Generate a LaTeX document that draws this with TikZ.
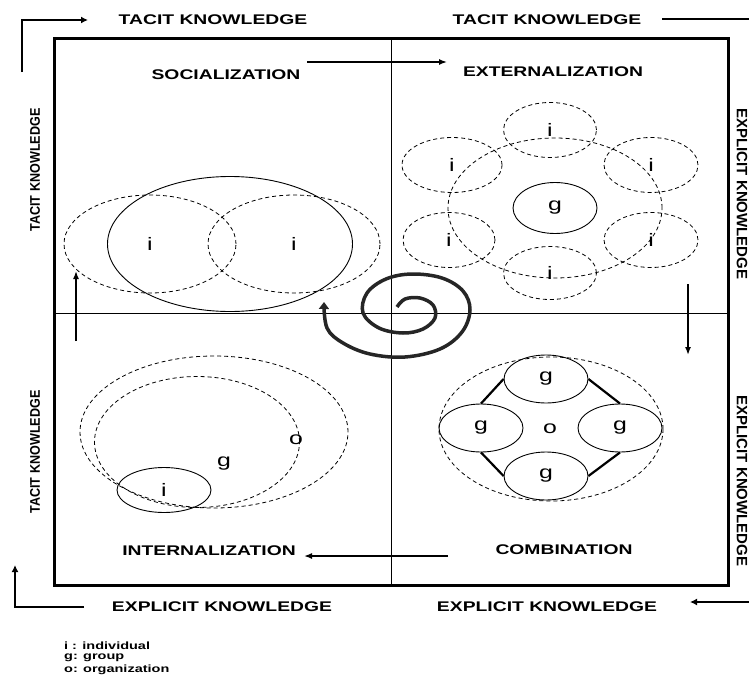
\documentclass[tikz,border=0pt]{standalone}
\usepackage{fontspec}
\setmainfont{Liberation Sans}
\newfontfamily\widefont[FakeStretch=1.38]{Liberation Sans}
\newfontfamily\narrowfont[FakeStretch=0.9]{Liberation Sans}
\usetikzlibrary{shapes.geometric,arrows.meta}

\begin{document}
\begin{tikzpicture}
 [x=1pt,y=-1pt,
  every node/.style={inner sep=0pt,font=\widefont\fontsize{18}{20}\selectfont},
  modelbl/.style={font=\widefont\bfseries\fontsize{14}{16}\selectfont},
  sidelbl/.style={font=\narrowfont\bfseries\fontsize{14}{16}\selectfont},
  edgelbl/.style={font=\bfseries\fontsize{15}{17}\selectfont},
  keylbl/.style={anchor=west,font=\widefont\bfseries\fontsize{10.5}{12}\selectfont},
  member/.style={ellipse,draw,line width=0.9pt},
  dashring/.style={ellipse,draw,line width=0.8pt,dash pattern=on 4pt off 3pt},
  flow/.style={line width=1.5pt,-{Latex[length=8pt,width=6pt]}},
  turnarrow/.style={line width=2.8pt,-{Latex[length=7pt,width=7pt]}},
  linkline/.style={line width=2.2pt}]
  \useasboundingbox (0,0) rectangle (749,677);

  % frame and quadrants
  \draw[line width=3pt] (54,39) rectangle (728,585);
  \draw[line width=0.8pt] (391,39) -- (391,585);
  \draw[line width=0.8pt] (54,313) -- (728,313);

  % outer labels
  \node[modelbl] (tk1) at (213,20) {TACIT KNOWLEDGE};
  \node[modelbl] (tk2) at (547,20) {TACIT KNOWLEDGE};
  \node[modelbl] (ek1) at (222,607) {EXPLICIT KNOWLEDGE};
  \node[modelbl] (ek2) at (547,607) {EXPLICIT KNOWLEDGE};
  \node[sidelbl,rotate=90] (tk3) at (35,170) {TACIT KNOWLEDGE};
  \node[sidelbl,rotate=90] (tk4) at (35,452) {TACIT KNOWLEDGE};
  \node[edgelbl,rotate=-90] (ek3) at (742,194) {EXPLICIT KNOWLEDGE};
  \node[edgelbl,rotate=-90] (ek4) at (742,481) {EXPLICIT KNOWLEDGE};

  % outer turning arrows
  \coordinate (l1) at (22,72);  \coordinate (l2) at (22,20);  \coordinate (l3) at (88,20);
  \coordinate (r1) at (662,19); \coordinate (r2) at (756,19); \coordinate (r3) at (756,64);
  \coordinate (q1) at (756,560); \coordinate (q2) at (756,602); \coordinate (q3) at (690,602);
  \coordinate (p1) at (84,607); \coordinate (p2) at (15,607); \coordinate (p3) at (15,565);
  \foreach \a/\b/\c in {l1/l2/l3,r1/r2/r3,q1/q2/q3,p1/p2/p3}
    \draw[turnarrow] (\a) -- (\b) -- (\c);

  % modes
  \node[modelbl] (soc) at (226,75) {SOCIALIZATION};
  \node[modelbl] (ext) at (553,72) {EXTERNALIZATION};
  \node[modelbl] (int) at (209,551) {INTERNALIZATION};
  \node[modelbl] (com) at (564,550) {COMBINATION};

  \coordinate (a1) at (307,62);  \coordinate (a2) at (447,62);
  \coordinate (b1) at (688,284); \coordinate (b2) at (688,355);
  \coordinate (c1) at (448,556); \coordinate (c2) at (304,556);
  \coordinate (d1) at (76,341);  \coordinate (d2) at (76,271);
  \foreach \from/\to in {a1/a2,b1/b2,c1/c2,d1/d2}
    \draw[flow] (\from) -- (\to);

  % socialization
  \node[member,minimum width=245pt,minimum height=135pt] (pair) at (230,244) {};
  \node[dashring,minimum width=172pt,minimum height=98pt] (s1) at (150,244) {i};
  \node[dashring,minimum width=172pt,minimum height=98pt] (s2) at (294,244) {i};

  % externalization
  \node[dashring,minimum width=214pt,minimum height=140pt] (team) at (555,208) {};
  \node[member,minimum width=84pt,minimum height=51pt] (g0) at (555,208) {g};
  \node[dashring,minimum width=93pt,minimum height=55pt] (e1) at (550,130) {i};
  \node[dashring,minimum width=100pt,minimum height=55pt] (e2) at (452,165) {i};
  \node[dashring,minimum width=94pt,minimum height=55pt] (e3) at (651,165) {i};
  \node[dashring,minimum width=92pt,minimum height=55pt] (e4) at (449,240) {i};
  \node[dashring,minimum width=94pt,minimum height=55pt] (e5) at (651,240) {i};
  \node[dashring,minimum width=93pt,minimum height=53pt] (e6) at (550,273) {i};

  % combination
  \node[dashring,minimum width=224pt,minimum height=144pt] (orgc) at (551,429) {};
  \node (o0) at (550,429) {o};
  \node[member,minimum width=84pt,minimum height=48pt] (gt) at (546,379) {g};
  \node[member,minimum width=84pt,minimum height=48pt] (gl) at (481,428) {g};
  \node[member,minimum width=84pt,minimum height=48pt] (gr) at (620,428) {g};
  \node[member,minimum width=84pt,minimum height=48pt] (gb) at (546,476) {g};
  \foreach \from/\to in {gt.west/gl.north,gt.east/gr.north,gl.south/gb.west,gr.south/gb.east}
    \draw[linkline] (\from) -- (\to);

  % internalization
  \node[dashring,minimum width=268pt,minimum height=152pt] (orgi) at (214,432) {};
  \node[dashring,minimum width=205pt,minimum height=131pt] (grpi) at (197,442) {};
  \node[member,minimum width=94pt,minimum height=45pt] (ind) at (164,490) {i};
  \node (gi) at (224,464) {g};
  \node (oi) at (296,440) {o};

  % spiral
  \draw[line width=3.5pt,black!85,-{Triangle[length=7pt,width=10pt]}]
    plot[smooth,tension=0.6] coordinates {(397,307) (405,299) (420,298) (433,305) (435,318)
      (423,329) (403,333) (379,328) (363,313) (367,293) (386,279) (412,274) (442,278)
      (463,291) (470,310) (462,332) (440,349) (405,357) (370,354) (343,343) (327,328)
      (324,302)};

  % key
  \node[keylbl] (k1) at (64,646) {i : individual};
  \node[keylbl] (k2) at (64,658) {g: group};
  \node[keylbl] (k3) at (64,670) {o: organization};
\end{tikzpicture}
\end{document}
